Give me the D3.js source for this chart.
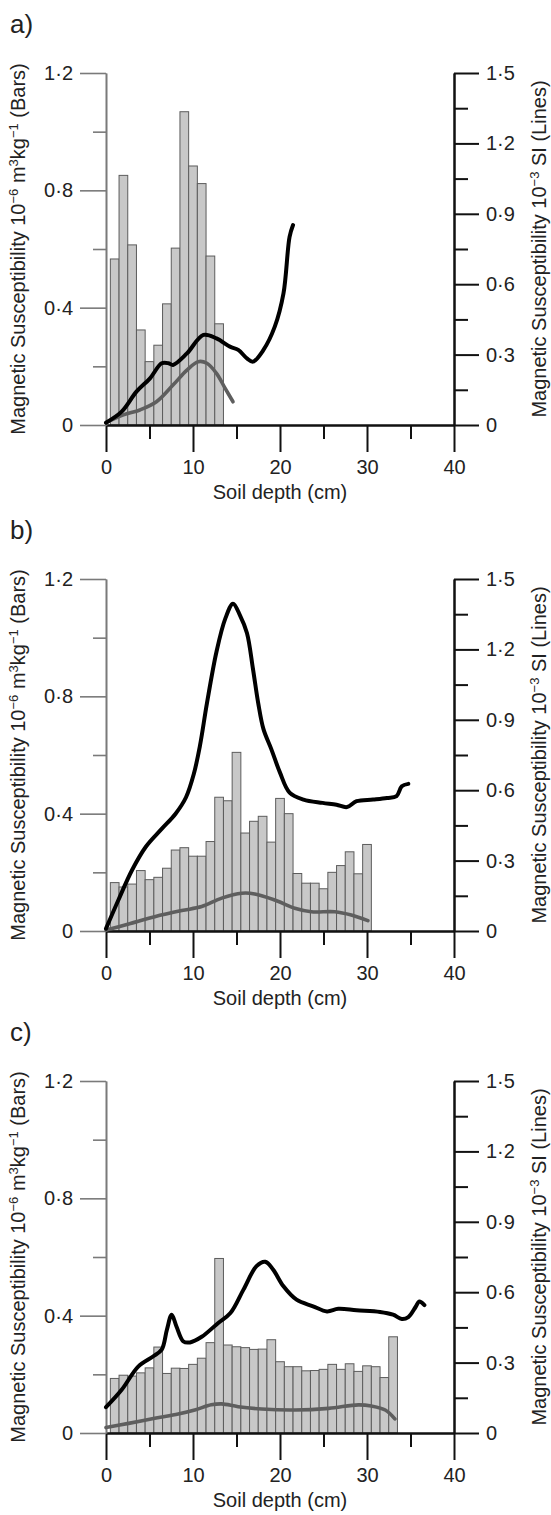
<!DOCTYPE html>
<html>
<head>
<meta charset="utf-8">
<script src="https://cdn.jsdelivr.net/npm/d3@7"></script>
<style>
  body { margin: 0; background: #fff; }
  svg text { font-family: "Liberation Sans", Arial, Helvetica, sans-serif; fill: #222; }
</style>
</head>
<body>
<svg id="chart"></svg>
<script>
// bar values (10^-6 m3 kg-1), one bar per cm of depth, centred on 1, 2, 3 ...
const barsA = [0.566, 0.851, 0.614, 0.324, 0.216, 0.272, 0.413, 0.603, 1.068, 0.883, 0.823, 0.576, 0.345];
const barsB = [0.165, 0.15, 0.16, 0.206, 0.175, 0.183, 0.214, 0.276, 0.284, 0.255,
  0.255, 0.305, 0.456, 0.444, 0.609, 0.334, 0.374, 0.391, 0.303, 0.452,
  0.4, 0.196, 0.163, 0.163, 0.144, 0.2, 0.223, 0.27, 0.195, 0.295];
const barsC = [0.186, 0.197, 0.194, 0.205, 0.222, 0.293, 0.203, 0.221, 0.22, 0.234,
  0.255, 0.308, 0.595, 0.3, 0.294, 0.291, 0.285, 0.286, 0.318, 0.243,
  0.226, 0.226, 0.212, 0.213, 0.217, 0.234, 0.217, 0.236, 0.21, 0.229,
  0.226, 0.189, 0.328];

// line values (10^-3 SI) as [depth cm, value]
const blackA = [[0, 0.01], [1.8, 0.057], [3.5, 0.142], [5.06, 0.199], [6.4, 0.263], [7.2, 0.263],
  [7.7, 0.256], [9.3, 0.305], [11.2, 0.384], [12.7, 0.369], [14.25, 0.334], [15.2, 0.32],
  [16.2, 0.284], [16.9, 0.27], [18.1, 0.32], [19.4, 0.419], [20.4, 0.561], [21.1, 0.802], [21.5, 0.852]];
const greyA = [[0, 0.01], [2.0, 0.043], [3.9, 0.064], [5.8, 0.099], [7.7, 0.17], [9.3, 0.234],
  [10.6, 0.27], [11.6, 0.263], [12.7, 0.22], [13.7, 0.156], [14.6, 0.099]];

const blackB = [[0, 0.01], [1.4, 0.13], [3.0, 0.26], [4.6, 0.36], [6.4, 0.435], [8.0, 0.5],
  [9.2, 0.57], [10.1, 0.67], [10.8, 0.79], [11.6, 0.97], [12.7, 1.19], [13.7, 1.33],
  [14.6, 1.395], [15.4, 1.345], [16.2, 1.27], [16.9, 1.115], [17.5, 0.97], [18.1, 0.86],
  [19.0, 0.775], [20.0, 0.675], [21.1, 0.59], [22.7, 0.56], [24.9, 0.546], [26.5, 0.538],
  [27.7, 0.528], [28.8, 0.553], [30.7, 0.56], [32.3, 0.567], [33.4, 0.575], [34.0, 0.617], [34.75, 0.627]];
const greyB = [[0, 0.004], [2.6, 0.03], [5.6, 0.061], [8.7, 0.087], [11.0, 0.104], [13.3, 0.14],
  [15.6, 0.161], [17.1, 0.158], [19.4, 0.132], [21.7, 0.097], [23.6, 0.082], [26.3, 0.082],
  [28.2, 0.068], [30.1, 0.044]];

const blackC = [[0, 0.11], [1.8, 0.184], [3.7, 0.283], [5.4, 0.326], [6.4, 0.355], [7.0, 0.44],
  [7.55, 0.504], [8.1, 0.454], [8.9, 0.39], [9.65, 0.386], [11.0, 0.41], [12.9, 0.469],
  [14.3, 0.511], [15.8, 0.611], [17.3, 0.711], [18.3, 0.73], [19.2, 0.697], [20.4, 0.625],
  [21.9, 0.568], [23.8, 0.54], [25.4, 0.518], [26.7, 0.529], [28.8, 0.523], [31.5, 0.516],
  [33.0, 0.504], [34.0, 0.486], [34.75, 0.494], [35.6, 0.538], [36.0, 0.56], [36.6, 0.545]];
const greyC = [[0, 0.023], [2.6, 0.041], [5.6, 0.063], [8.3, 0.081], [10.2, 0.098], [12.1, 0.12],
  [13.3, 0.124], [15.2, 0.112], [17.9, 0.102], [21.7, 0.098], [25.6, 0.105], [29.0, 0.12],
  [30.5, 0.115], [32.1, 0.098], [33.2, 0.06]];

// axis ticks
const depthMajor = [0, 10, 20, 30, 40];
const depthMinor = [5, 15, 25, 35];
const barMajor = [0, 0.4, 0.8, 1.2];
const barMinor = [0.2, 0.6, 1.0];
const lineMajor = [0, 0.3, 0.6, 0.9, 1.2, 1.5];
const lineMinor = [0.15, 0.45, 0.75, 1.05, 1.35];
const panelLetters = ["a)", "b)", "c)"];

const width = 551;
const height = 1515;
const panelTops = [73, 579, 1081];
const plotLeft = 106;
const plotWidth = 348;
const plotHeight = 352;

const fmt = (d) => (d === 0 ? "0" : d3.format(".1f")(d).replace(".", "\u00b7"));

const svg = d3.select("#chart").attr("width", width).attr("height", height);

const panel = (g, letter, bars, black, grey) => {
  const x = d3.scaleLinear().domain([0, 40]).range([plotLeft, plotLeft + plotWidth]);
  const y = d3.scaleLinear().domain([0, 1.2]).range([plotHeight, 0]);
  const y2 = d3.scaleLinear().domain([0, 1.5]).range([plotHeight, 0]);

  g.append("text")
    .attr("x", 10)
    .attr("y", -40)
    .attr("font-size", 26)
    .text(letter);

  // bars, 1 cm wide
  g.selectAll(".bar")
    .data(bars)
    .join("rect")
    .attr("class", "bar")
    .attr("x", (d, i) => x(i + 0.5))
    .attr("width", (d, i) => x(i + 1.5) - x(i + 0.5))
    .attr("y", (d) => y(d))
    .attr("height", (d) => y(0) - y(d))
    .attr("fill", "#c8c8c8")
    .attr("stroke", "#5c5c5c")
    .attr("stroke-width", 1);

  // bottom axis
  const xAxis = g.append("g").attr("transform", `translate(0,${plotHeight})`);
  xAxis.append("g")
    .call(d3.axisBottom(x).tickValues(depthMinor).tickSize(14).tickSizeOuter(0).tickFormat(""));
  xAxis.append("g")
    .call(d3.axisBottom(x).tickValues(depthMajor).tickSize(27).tickSizeOuter(0).tickPadding(8).tickFormat((d) => d));
  xAxis.selectAll("path, line").attr("stroke", "#111").attr("stroke-width", 2);
  xAxis.selectAll("text").attr("font-size", 20).attr("font-family", null).attr("fill", "#222");

  g.append("text")
    .attr("x", plotLeft + plotWidth / 2)
    .attr("y", plotHeight + 74)
    .attr("text-anchor", "middle")
    .attr("font-size", 20)
    .text("Soil depth (cm)");

  // left axis (bars)
  const yAxis = g.append("g").attr("transform", `translate(${plotLeft},0)`);
  yAxis.append("g")
    .call(d3.axisLeft(y).tickValues(barMinor).tickSize(13).tickSizeOuter(0).tickFormat(""));
  yAxis.append("g")
    .call(d3.axisLeft(y).tickValues(barMajor).tickSize(26).tickSizeOuter(0).tickPadding(7).tickFormat(fmt));
  yAxis.selectAll("path, line").attr("stroke", "#7a7a7a").attr("stroke-width", 1.6);
  yAxis.selectAll("text").attr("font-size", 20).attr("font-family", null).attr("fill", "#222");

  // right axis (lines)
  const y2Axis = g.append("g").attr("transform", `translate(${plotLeft + plotWidth},0)`);
  y2Axis.append("g")
    .call(d3.axisRight(y2).tickValues(lineMinor).tickSize(14).tickSizeOuter(0).tickFormat(""));
  y2Axis.append("g")
    .call(d3.axisRight(y2).tickValues(lineMajor).tickSize(25).tickSizeOuter(0).tickPadding(7).tickFormat(fmt));
  y2Axis.selectAll("path, line").attr("stroke", "#111").attr("stroke-width", 2);
  y2Axis.selectAll("text").attr("font-size", 20).attr("font-family", null).attr("fill", "#222");

  // axis titles
  const leftTitle = g.append("text")
    .attr("transform", `translate(18,${plotHeight / 2}) rotate(-90)`)
    .attr("text-anchor", "middle")
    .attr("dy", "0.35em")
    .attr("font-size", 20);
  leftTitle.append("tspan").text("Magnetic Susceptibility 10");
  leftTitle.append("tspan").attr("baseline-shift", "super").attr("font-size", 13).text("\u22126");
  leftTitle.append("tspan").text(" m");
  leftTitle.append("tspan").attr("baseline-shift", "super").attr("font-size", 13).text("3");
  leftTitle.append("tspan").text("kg");
  leftTitle.append("tspan").attr("baseline-shift", "super").attr("font-size", 13).text("\u22121");
  leftTitle.append("tspan").text(" (Bars)");

  const rightTitle = g.append("text")
    .attr("transform", `translate(539,${plotHeight / 2}) rotate(-90)`)
    .attr("text-anchor", "middle")
    .attr("dy", "0.35em")
    .attr("font-size", 20);
  rightTitle.append("tspan").text("Magnetic Susceptibility 10");
  rightTitle.append("tspan").attr("baseline-shift", "super").attr("font-size", 13).text("\u22123");
  rightTitle.append("tspan").text(" SI (Lines)");

  // lines
  const line = d3.line()
    .x((d) => x(d[0]))
    .y((d) => y2(d[1]))
    .curve(d3.curveCatmullRom.alpha(0.5));

  g.append("path")
    .datum(grey)
    .attr("d", line)
    .attr("fill", "none")
    .attr("stroke", "#5e5e5e")
    .attr("stroke-width", 3.6)
    .attr("stroke-linecap", "round")
    .attr("stroke-linejoin", "round");

  g.append("path")
    .datum(black)
    .attr("d", line)
    .attr("fill", "none")
    .attr("stroke", "#000")
    .attr("stroke-width", 4)
    .attr("stroke-linecap", "round")
    .attr("stroke-linejoin", "round");
};

const panels = [
  [barsA, blackA, greyA],
  [barsB, blackB, greyB],
  [barsC, blackC, greyC],
];

panels.forEach(([bars, black, grey], i) => {
  const g = svg.append("g").attr("transform", `translate(0,${panelTops[i]})`);
  panel(g, panelLetters[i], bars, black, grey);
});
</script>
</body>
</html>
